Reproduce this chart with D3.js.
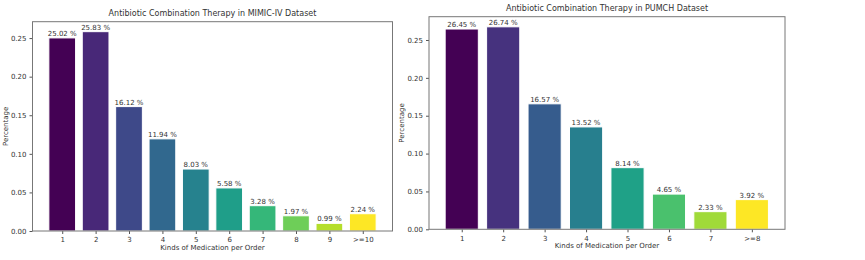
<!DOCTYPE html>
<html>
<head>
<meta charset="utf-8">
<script src="https://cdn.jsdelivr.net/npm/d3@7"></script>
<style>
body{margin:0;background:#fff;font-family:"DejaVu Sans",sans-serif;}
text{fill:#333;}
</style>
</head>
<body>
<svg id="chart" width="865" height="260"></svg>
<script>
const mimicCats=["1","2","3","4","5","6","7","8","9",">=10"]
const mimicVals=[0.2502,0.2583,0.1612,0.1194,0.0803,0.0558,0.0328,0.0197,0.0099,0.0224]
const pumchCats=["1","2","3","4","5","6","7",">=8"]
const pumchVals=[0.2645,0.2674,0.1657,0.1352,0.0814,0.0465,0.0233,0.0392]
const yTicks=[0,0.05,0.10,0.15,0.20,0.25]

const svg=d3.select("#chart")

function drawPanel(cfg){
  const g=svg.append("g")
  const n=cfg.cats.length
  const x=d3.scaleLinear().domain(cfg.xdom).range([cfg.left,cfg.right])
  const y=d3.scaleLinear().domain([0,d3.max(cfg.vals)*1.05]).range([cfg.bottom,cfg.top])
  const color=i=>d3.interpolateViridis(i/(n-1))

  g.selectAll("rect.bar")
    .data(cfg.vals)
    .enter()
    .append("rect")
    .attr("class","bar")
    .attr("x",(d,i)=>x(i-0.4))
    .attr("width",(d,i)=>x(i+0.4)-x(i-0.4))
    .attr("y",d=>y(d))
    .attr("height",d=>y(0)-y(d))
    .attr("fill",(d,i)=>color(i))
    .attr("stroke","#fff")
    .attr("stroke-width",1)

  g.selectAll("text.val")
    .data(cfg.vals)
    .enter()
    .append("text")
    .attr("class","val")
    .attr("x",(d,i)=>x(i))
    .attr("y",d=>y(d)-2)
    .attr("text-anchor","middle")
    .style("font-size","7px")
    .text(d=>(d*100).toFixed(2)+" %")

  const xAxis=d3.axisBottom(x)
    .tickValues(d3.range(n))
    .tickFormat(i=>cfg.cats[i])
    .tickSize(3)
    .tickSizeOuter(0)
  const yAxis=d3.axisLeft(y)
    .tickValues(yTicks)
    .tickFormat(d3.format(".2f"))
    .tickSize(3)
    .tickSizeOuter(0)

  const gx=g.append("g")
    .attr("transform","translate(0,"+cfg.bottom+")")
    .call(xAxis)
  const gy=g.append("g")
    .attr("transform","translate("+cfg.left+",0)")
    .call(yAxis)
  ;[gx,gy].forEach(a=>{
    a.select(".domain").remove()
    a.selectAll(".tick line").attr("stroke","#555")
    a.selectAll(".tick text").style("font-size","7px").style("font-family","DejaVu Sans").attr("fill","#333")
  })
  gx.selectAll(".tick text").attr("dy","0.75em")

  g.append("rect")
    .attr("x",cfg.left)
    .attr("y",cfg.top)
    .attr("width",cfg.right-cfg.left)
    .attr("height",cfg.bottom-cfg.top)
    .attr("fill","none")
    .attr("stroke","#777")
    .attr("stroke-width",1)

  g.append("text")
    .attr("x",(cfg.left+cfg.right)/2)
    .attr("y",cfg.top-6)
    .attr("text-anchor","middle")
    .style("font-size","8px")
    .text(cfg.title)
  g.append("text")
    .attr("x",(cfg.left+cfg.right)/2)
    .attr("y",cfg.bottom+19)
    .attr("text-anchor","middle")
    .style("font-size","7px")
    .text("Kinds of Medication per Order")
  g.append("text")
    .attr("transform","translate("+(cfg.left-25)+","+((cfg.top+cfg.bottom)/2)+") rotate(-90)")
    .attr("text-anchor","middle")
    .style("font-size","7px")
    .text("Percentage")
}

drawPanel({
  cats:mimicCats,vals:mimicVals,
  title:"Antibiotic Combination Therapy in MIMIC-IV Dataset",
  left:32.5,right:392.5,top:21.7,bottom:231,xdom:[-0.89,9.89]
})
drawPanel({
  cats:pumchCats,vals:pumchVals,
  title:"Antibiotic Combination Therapy in PUMCH Dataset",
  left:429,right:785,top:16.7,bottom:229.3,xdom:[-0.79,7.8]
})
</script>
</body>
</html>
